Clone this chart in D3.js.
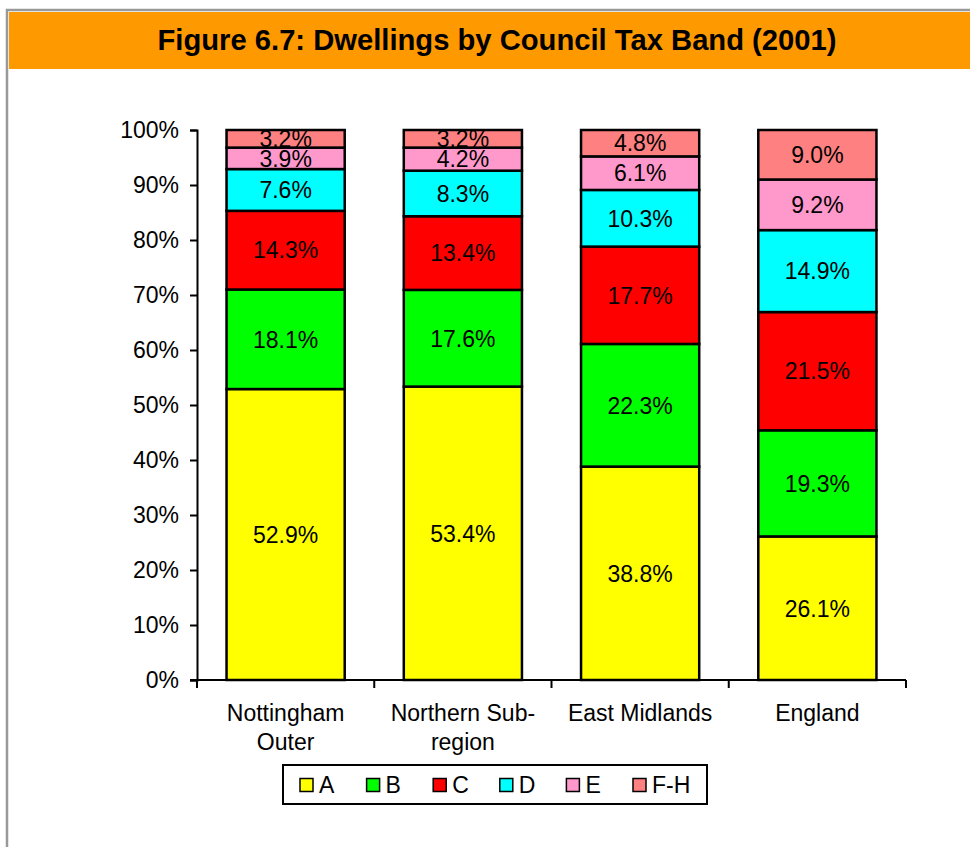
<!DOCTYPE html>
<html>
<head>
<meta charset="utf-8">
<script src="https://cdn.jsdelivr.net/npm/d3@7"></script>
<style>
  html, body { margin: 0; padding: 0; background: #fff; }
  svg { display: block; font-family: "Liberation Sans", Arial, Helvetica, sans-serif; }
</style>
</head>
<body>
<svg id="chart" width="970" height="847"></svg>
<script>
// Share of dwellings in each council tax band, 2001 (percent)
const areas = ["Nottingham Outer", "Northern Sub-region", "East Midlands", "England"];
const areaLines = [["Nottingham", "Outer"], ["Northern Sub-", "region"], ["East Midlands"], ["England"]];
const bands = ["A", "B", "C", "D", "E", "F-H"];
const bandA   = [52.9, 53.4, 38.8, 26.1];
const bandB   = [18.1, 17.6, 22.3, 19.3];
const bandC   = [14.3, 13.4, 17.7, 21.5];
const bandD   = [7.6, 8.3, 10.3, 14.9];
const bandE   = [3.9, 4.2, 6.1, 9.2];
const bandFH  = [3.2, 3.2, 4.8, 9.0];
const bandColors = ["#FFFF00", "#00FF00", "#FF0000", "#00FFFF", "#FF99CC", "#FF8080"];
const yTicks = [0, 10, 20, 30, 40, 50, 60, 70, 80, 90, 100];
const title = "Figure 6.7: Dwellings by Council Tax Band (2001)";

const bandValues = [bandA, bandB, bandC, bandD, bandE, bandFH];
const rows = areas.map((area, i) => {
  const row = { area };
  bands.forEach((b, j) => { row[b] = bandValues[j][i]; });
  return row;
});

const FS = 23;
const svg = d3.select("#chart");

// Frame and title banner
svg.append("rect").attr("x", 7).attr("y", 10).attr("width", 970).attr("height", 850)
  .attr("fill", "none").attr("stroke", "#999").attr("stroke-width", 2.5);
svg.append("rect").attr("x", 9).attr("y", 12).attr("width", 961).attr("height", 57)
  .attr("fill", "#FF9900");
svg.append("text").attr("x", 497).attr("y", 50).attr("text-anchor", "middle")
  .attr("font-size", 30).attr("font-weight", "bold").attr("fill", "#000")
  .attr("textLength", 679).attr("lengthAdjust", "spacingAndGlyphs")
  .text(title);

// Scales
const plot = { left: 197, right: 906, top: 130, bottom: 680 };
const x = d3.scaleBand().domain(areas).range([plot.left, plot.right])
  .paddingInner(1 / 3).paddingOuter(1 / 6);
const y = d3.scaleLinear().domain([0, 100]).range([plot.bottom, plot.top]);

// 100% stacking: each column is scaled to its own total
const stack = d3.stack().keys(bands).offset(d3.stackOffsetExpand);
const series = stack(rows);

const g = svg.append("g");
series.forEach((s, j) => {
  const layer = g.append("g");
  layer.selectAll("rect").data(s).join("rect")
    .attr("x", d => x(d.data.area))
    .attr("width", x.bandwidth())
    .attr("y", d => y(d[1] * 100))
    .attr("height", d => y(d[0] * 100) - y(d[1] * 100))
    .attr("fill", bandColors[j])
    .attr("stroke", "#000").attr("stroke-width", 2.5);
});
// Value labels centred in each segment
series.forEach((s, j) => {
  g.append("g").selectAll("text").data(s).join("text")
    .attr("x", d => x(d.data.area) + x.bandwidth() / 2)
    .attr("y", d => y((d[0] + d[1]) / 2 * 100))
    .attr("dy", "0.36em")
    .attr("text-anchor", "middle")
    .attr("font-size", FS).attr("fill", "#000")
    .text(d => d.data[bands[j]].toFixed(1) + "%");
});

// Y axis
const yAxis = d3.axisLeft(y).tickValues(yTicks).tickFormat(d => d + "%")
  .tickSize(7).tickPadding(11);
const yg = svg.append("g").attr("transform", `translate(${plot.left},0)`).call(yAxis);
yg.select(".domain").attr("stroke", "#000").attr("stroke-width", 2);
yg.selectAll(".tick line").attr("stroke", "#000").attr("stroke-width", 2);
yg.selectAll(".tick text").attr("font-size", FS).attr("fill", "#000")
  .attr("font-family", "Liberation Sans, Arial, sans-serif");

// X axis: baseline with ticks at the category boundaries
const step = x.step();
const boundaries = d3.range(areas.length + 1).map(i => plot.left + i * step);
const xg = svg.append("g");
xg.append("line").attr("x1", plot.left - 7).attr("x2", plot.right)
  .attr("y1", plot.bottom).attr("y2", plot.bottom)
  .attr("stroke", "#000").attr("stroke-width", 2);
xg.selectAll("line.tk").data(boundaries).join("line").attr("class", "tk")
  .attr("x1", d => d).attr("x2", d => d)
  .attr("y1", plot.bottom).attr("y2", plot.bottom + 8)
  .attr("stroke", "#000").attr("stroke-width", 2);
xg.selectAll("text").data(areas).join("text")
  .attr("text-anchor", "middle").attr("font-size", FS).attr("fill", "#000")
  .each(function (d, i) {
    const t = d3.select(this);
    areaLines[i].forEach((line, k) => {
      t.append("tspan").attr("x", x(d) + x.bandwidth() / 2)
        .attr("y", 721 + k * 29).text(line);
    });
  });

// Legend
const legend = svg.append("g");
legend.append("rect").attr("x", 283).attr("y", 765).attr("width", 424).attr("height", 39)
  .attr("fill", "#fff").attr("stroke", "#000").attr("stroke-width", 2);
const item = legend.selectAll("g.item").data(bands).join("g").attr("class", "item")
  .attr("transform", (d, i) => `translate(${300 + i * 66.6},785)`);
item.append("rect").attr("x", 0).attr("y", -6.5).attr("width", 13).attr("height", 13)
  .attr("fill", (d, i) => bandColors[i]).attr("stroke", "#000").attr("stroke-width", 1.5);
item.append("text").attr("x", 19).attr("y", 0).attr("dy", "0.36em")
  .attr("font-size", FS).attr("fill", "#000").text(d => d);
</script>
</body>
</html>
